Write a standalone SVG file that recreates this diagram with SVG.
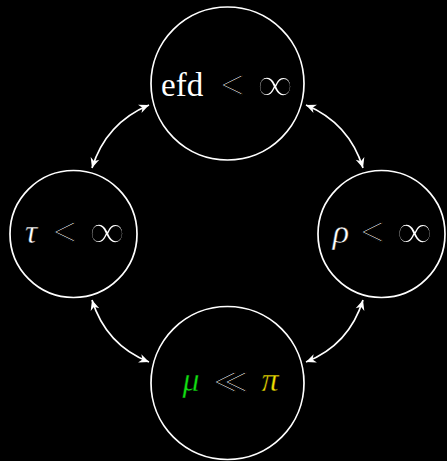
<svg xmlns="http://www.w3.org/2000/svg" width="447" height="461" viewBox="0 0 447 461">
  <style>
    .node { fill: none; stroke: #ffffff; stroke-width: 1.7; }
    .t { font-family: "Liberation Serif", "DejaVu Serif", serif; fill: #ffffff; }
    .word { font-size: 33px; }
    .var { font-size: 34px; font-style: italic; text-anchor: middle; stroke: #000000; stroke-width: 0.4; }
    .rel { font-size: 42px; text-anchor: middle; stroke: #000000; stroke-width: 1.2; }
    .inf { font-size: 50px; text-anchor: middle; stroke: #000000; stroke-width: 1.6; }
    .green { fill: #11dd11; }
    .yellow { fill: #eedd00; }
    .edge { fill: none; stroke: #ffffff; stroke-width: 1.7; marker-start: url(#tip); marker-end: url(#tip); }
  </style>
  <defs>
    <marker id="tip" viewBox="0 0 12 10" refX="11" refY="5" markerWidth="12" markerHeight="10" markerUnits="userSpaceOnUse" orient="auto-start-reverse">
      <path d="M11,5 L1,0.5 L4,5 L1,9.5 Z" fill="#ffffff"/>
    </marker>
  </defs>
  <rect width="447" height="461" fill="#000000"/>

  <g id="connectors">
    <path class="edge" d="M92,168 Q106,123 149,105"/>
    <path class="edge" d="M306,105 Q349,123 363,168"/>
    <path class="edge" d="M363,300 Q349,345 306,362"/>
    <path class="edge" d="M149,362 Q106,345 92,300"/>
  </g>

  <g id="node-efd">
    <circle class="node" cx="227.5" cy="83.5" r="76.5"/>
    <text class="t word" x="161" y="96">efd</text>
    <text class="t rel" x="232" y="99">&lt;</text>
    <text class="t inf" x="275" y="101">∞</text>
  </g>

  <g id="node-tau">
    <circle class="node" cx="73.5" cy="234" r="63.5"/>
    <text class="t var" x="31" y="243">τ</text>
    <text class="t rel" x="64.5" y="246">&lt;</text>
    <text class="t inf" x="107" y="248">∞</text>
  </g>

  <g id="node-rho">
    <circle class="node" cx="381.5" cy="234" r="63.5"/>
    <text class="t var" x="341" y="243">ρ</text>
    <text class="t rel" x="372" y="246">&lt;</text>
    <text class="t inf" x="414.5" y="248">∞</text>
  </g>

  <g id="node-mu">
    <circle class="node" cx="227.5" cy="383" r="76.5"/>
    <text class="t var green" x="191" y="391">μ</text>
    <text class="t rel" x="224" y="396" letter-spacing="-13">&lt;&lt;</text>
    <text class="t var yellow" x="270" y="391">π</text>
  </g>
</svg>
